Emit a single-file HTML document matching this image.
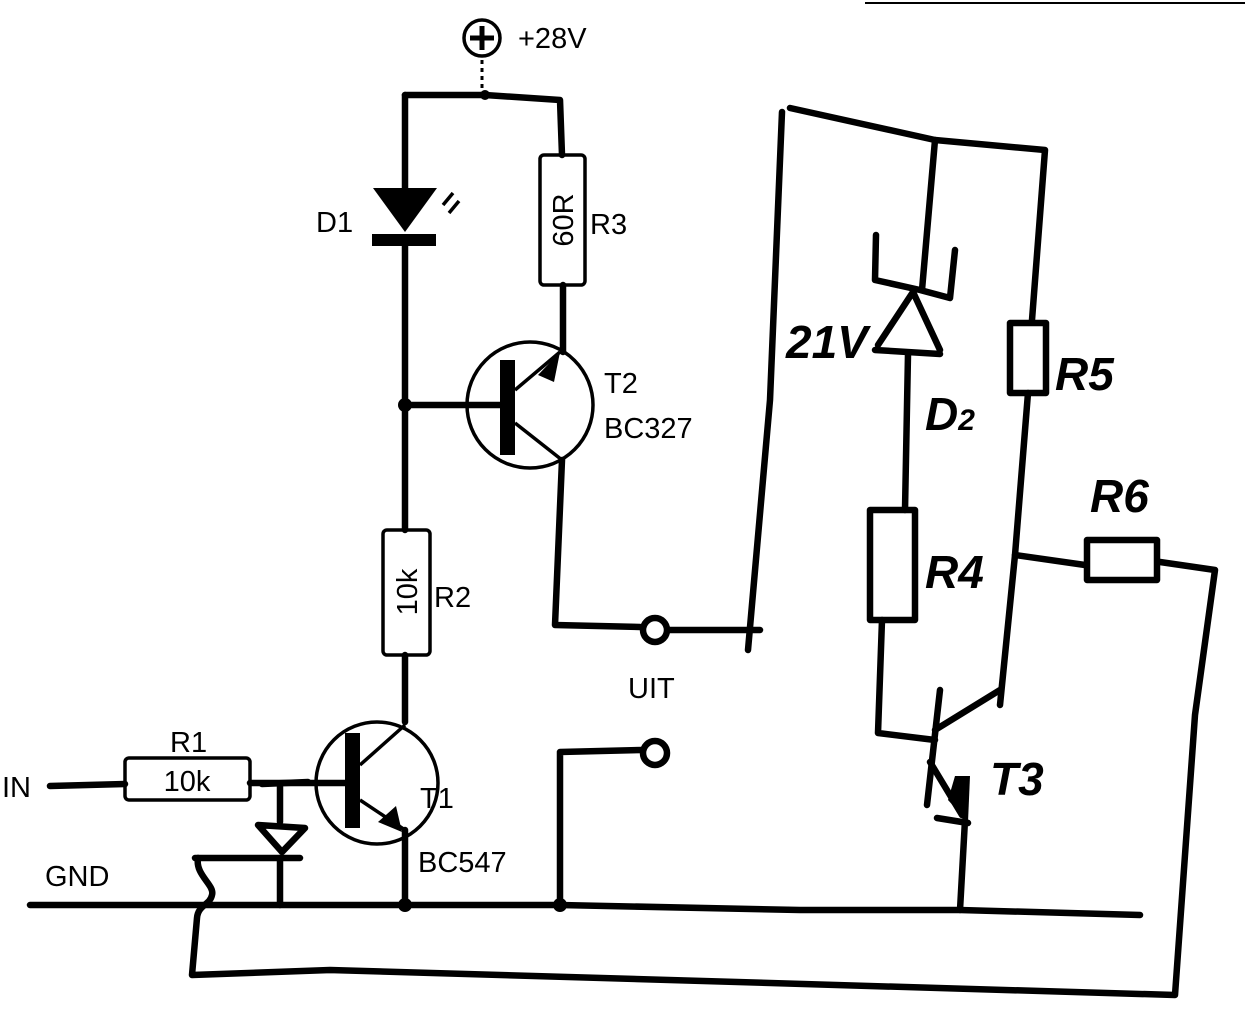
<!DOCTYPE html>
<html><head><meta charset="utf-8"><style>
html,body{margin:0;padding:0;background:#fff;}
svg{display:block}
.w{fill:none;stroke:#000;stroke-width:6.5;stroke-linecap:round;stroke-linejoin:round}
.t{fill:none;stroke:#000;stroke-width:3.5}
.p{font-family:"Liberation Sans",sans-serif;font-size:29px;fill:#000}
.h{font-family:"Liberation Sans",sans-serif;font-size:46px;fill:#000;font-weight:bold;font-style:italic}
</style></head><body>
<svg width="1245" height="1035" viewBox="0 0 1245 1035">
<line x1="865" y1="3" x2="1245" y2="3" stroke="#000" stroke-width="2"/>
<circle cx="482" cy="38" r="18" class="t"/>
<path d="M470 38H494M482 26V50" stroke="#000" stroke-width="5"/>
<text x="518" y="48" class="p">+28V</text>
<path d="M482 60V90" stroke="#000" stroke-width="3" stroke-dasharray="4 4"/>
<path class="w" d="M405 95L485 95L560 100L562 155"/>
<circle cx="485" cy="95" r="5"/>
<path class="w" d="M405 95V188"/>
<polygon points="373,188 437,188 405,232"/>
<rect x="372" y="234" width="64" height="12"/>
<path class="t" d="M443 205l10 -12M449 213l10 -12"/>
<text x="316" y="232" class="p">D1</text>
<path class="w" d="M405 246V530"/>
<circle cx="405" cy="405" r="7"/>
<path class="w" d="M405 405H500"/>
<rect x="383" y="530" width="47" height="125" rx="4" class="t"/>
<text transform="translate(417,592) rotate(-90)" class="p" text-anchor="middle">10k</text>
<text x="434" y="607" class="p">R2</text>
<path class="w" d="M405 655V722"/>
<circle cx="377" cy="783" r="61" class="t"/>
<rect x="345" y="733" width="15" height="95"/>
<path class="t" d="M360 765L405 725M360 800L405 830"/>
<polygon points="378,822 402,832 396,806"/>
<path class="w" d="M405 830V905"/>
<circle cx="405" cy="905" r="7"/>
<text x="420" y="808" class="p">T1</text>
<text x="418" y="872" class="p">BC547</text>
<text x="2" y="797" class="p">IN</text>
<path class="w" d="M50 786L125 784"/>
<rect x="125" y="758" width="125" height="42" rx="4" class="t"/>
<text x="187" y="791" class="p" text-anchor="middle">10k</text>
<text x="170" y="752" class="p">R1</text>
<path class="w" d="M250 783H345"/>
<path class="w" d="M262 784L308 782M280 784V822"/>
<path class="w" d="M258 825L305 828L282 852Z"/>
<path class="w" d="M195 858L300 858M280 858V905"/>
<path class="w" d="M198 858C195 875 215 885 212 895C210 905 198 905 197 918L192 975L330 970L1175 995L1195 715L1215 570L1160 562"/>
<text x="45" y="886" class="p">GND</text>
<path class="w" d="M30 905L560 905L800 910L960 910L1140 915"/>
<circle cx="560" cy="905" r="7"/>
<rect x="540" y="155" width="45" height="130" rx="4" class="t"/>
<text transform="translate(573,220) rotate(-90)" class="p" text-anchor="middle">60R</text>
<text x="590" y="234" class="p">R3</text>
<path class="w" d="M563 285V352"/>
<circle cx="530" cy="405" r="63" class="t"/>
<rect x="500" y="360" width="15" height="95"/>
<path class="t" d="M515 390L560 352M515 423L562 460"/>
<polygon points="538,375 560,352 554,382"/>
<text x="604" y="393" class="p">T2</text>
<text x="604" y="438" class="p">BC327</text>
<path class="w" d="M562 460L555 625L640 627"/>
<circle cx="655" cy="630" r="12" class="w"/>
<path class="w" d="M668 630L760 630"/>
<text x="628" y="698" class="p">UIT</text>
<circle cx="655" cy="753" r="12" class="w"/>
<path class="w" d="M642 750L560 752V905"/>
<path class="w" d="M790 108L935 140L1045 150L1032 320"/>
<path class="w" d="M782 112L770 400L748 650"/>
<path class="w" d="M935 140L922 290"/>
<path class="w" d="M876 235L875 280L920 290L950 298L955 250"/>
<path class="w" d="M913 292L878 345M913 292L940 350M875 350L940 354"/>
<path class="w" d="M908 354L905 510"/>
<text x="786" y="358" class="h">21V</text>
<text x="925" y="430" class="h">D<tspan font-size="30">2</tspan></text>
<rect x="1010" y="323" width="36" height="70" class="w"/>
<path class="w" d="M1028 393L1015 555L1000 705"/>
<text x="1055" y="390" class="h">R5</text>
<rect x="870" y="510" width="45" height="110" class="w"/>
<text x="925" y="588" class="h">R4</text>
<path class="w" d="M882 620L878 733L935 740"/>
<path class="w" d="M940 690L927 805"/>
<path class="w" d="M935 730L1000 690"/>
<path class="w" d="M930 762L962 815M937 818L968 823"/>
<polygon points="955,776 970,776 968,822 948,800"/>
<path class="w" d="M965 820L960 910"/>
<text x="990" y="795" class="h">T3</text>
<path class="w" d="M1015 555L1085 565"/>
<rect x="1087" y="540" width="70" height="40" class="w"/>
<text x="1090" y="512" class="h">R6</text>
</svg>
</body></html>
